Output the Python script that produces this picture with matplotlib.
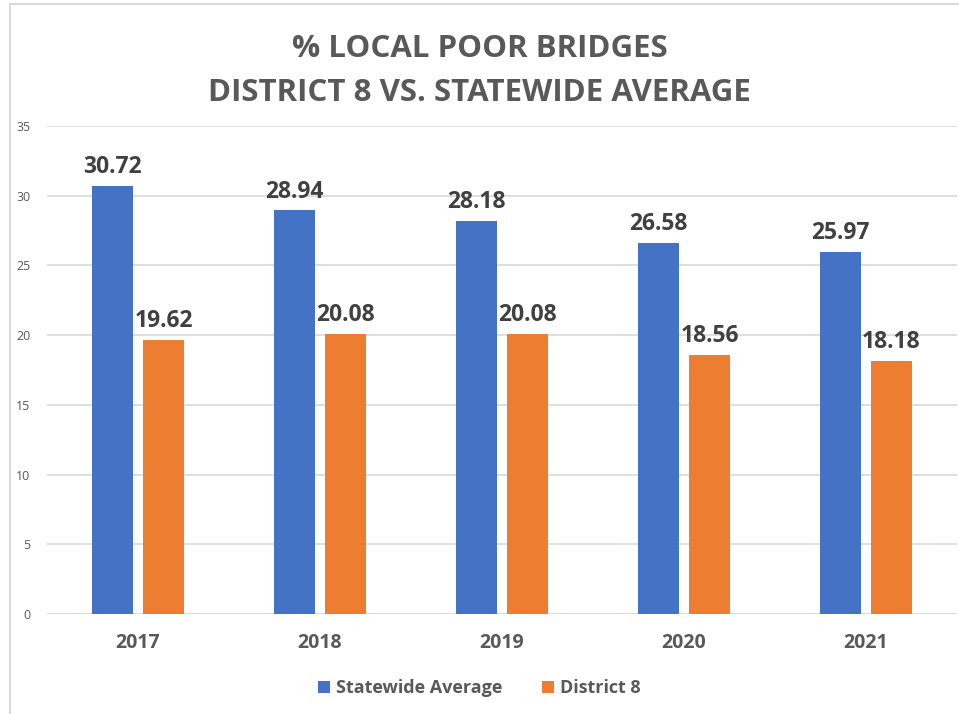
import matplotlib
matplotlib.use("Agg")
import matplotlib.pyplot as plt
import numpy as np
from matplotlib.lines import Line2D

plt.rcParams['font.family'] = ['Open Sans', 'DejaVu Sans']

years = ['2017', '2018', '2019', '2020', '2021']
statewide = [30.72, 28.94, 28.18, 26.58, 25.97]
district8 = [19.62, 20.08, 20.08, 18.56, 18.18]
series_names = ['Statewide Average', 'District 8']

blue = '#4472C4'
orange = '#ED7D31'
text_grey = '#595959'

fig = plt.figure(figsize=(9.59, 7.14), dpi=100)
ax = fig.add_axes([47 / 959, 100 / 714, 910 / 959, 488 / 714])

x = np.arange(len(years))
w = 0.225
off = 0.14
b1 = ax.bar(x - off, statewide, w, color=blue, label=series_names[0], zorder=3)
b2 = ax.bar(x + off, district8, w, color=orange, label=series_names[1], zorder=3)

for bars in (b1, b2):
    for rect in bars:
        h = rect.get_height()
        ax.annotate(f"{h:.2f}", (rect.get_x() + rect.get_width() / 2, h),
                    xytext=(0, 5), textcoords='offset points',
                    ha='center', va='bottom', fontsize=16.5,
                    fontweight='bold', color='#404040')

ax.set_xlim(-0.5, len(years) - 0.5)
ax.set_ylim(0, 35)
ax.set_yticks(range(0, 36, 5))
ax.yaxis.grid(True, color='#D9D9D9', linewidth=1.2, zorder=0)
ax.set_xticks(x)
ax.set_xticklabels(years, fontsize=14, fontweight='bold', color=text_grey)
ax.tick_params(axis='x', length=0, pad=14)
ax.tick_params(axis='y', length=0, labelsize=9, labelcolor=text_grey, pad=12)
for s in ax.spines.values():
    s.set_visible(False)
ax.axhline(0, color='#D9D9D9', linewidth=1.2, zorder=2)

fig.text(0.5, 1 - 49 / 714, '% LOCAL POOR BRIDGES', ha='center', va='center',
         fontsize=22.5, fontweight='bold', color=text_grey)
fig.text(0.5, 1 - 93 / 714, 'DISTRICT 8 VS. STATEWIDE AVERAGE', ha='center', va='center',
         fontsize=22.5, fontweight='bold', color=text_grey)

leg = fig.legend(handles=[b1, b2], labels=series_names, loc='center',
                 bbox_to_anchor=(0.5, 1 - 688 / 714), ncol=2, frameon=False,
                 fontsize=13, handlelength=0.65, handleheight=0.65,
                 columnspacing=2.2, handletextpad=0.35)
for t in leg.get_texts():
    t.set_color(text_grey)
    t.set_fontweight('bold')

# chart border
fig.add_artist(Line2D([10 / 959, 10 / 959], [0, 1 - 4 / 714], color='#D9D9D9', lw=1.5))
fig.add_artist(Line2D([10 / 959, 1], [1 - 4 / 714, 1 - 4 / 714], color='#D9D9D9', lw=1.5))

fig.savefig('out.png', dpi=100)
